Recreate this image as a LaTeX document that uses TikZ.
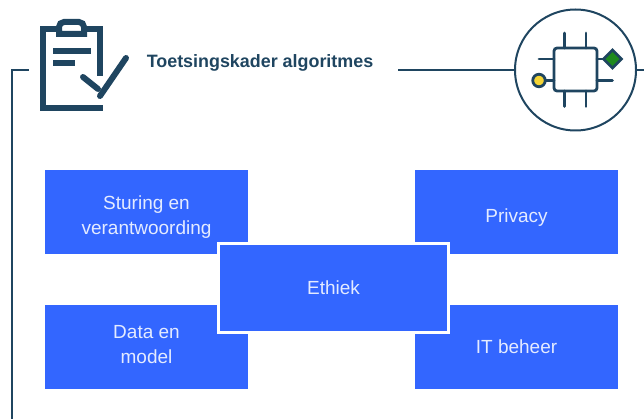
\documentclass[tikz,border=0pt]{standalone}
\usepackage{fontspec}
\setmainfont{Liberation Sans}
\usetikzlibrary{shapes.geometric}
\definecolor{navy}{HTML}{1F4560}
\definecolor{tileblue}{HTML}{3366FF}
\definecolor{tiletext}{HTML}{E4EBFF}
\definecolor{pingreen}{HTML}{1E8A1E}
\definecolor{pinyellow}{HTML}{F5D535}
\tikzset{
	tile/.style={fill=tileblue,minimum width=203pt,minimum height=84pt,inner sep=0pt,outer sep=0pt},
	tiletitle/.style={text=tiletext,inner sep=0pt,align=center,font=\fontsize{19}{25}\selectfont},
	wire/.style={draw=navy,line width=2pt},
	icon/.style={draw=navy,line width=6pt},
	pin/.style={draw=navy,line width=2.8pt,line cap=round},
}
\begin{document}
\begin{tikzpicture}[x=1pt,y=-1pt]
	\useasboundingbox (0,0) rectangle (644,419);

	%tiles
	\node[tile,label={[tiletitle,yshift=-5pt]center:Sturing en\\verantwoording}] (sturing) at (146.5,212) {};
	\node[tile,label={[tiletitle,yshift=-6pt]center:Privacy}] (privacy) at (516.5,212) {};
	\node[tile,label={[tiletitle,yshift=2pt]center:Data en\\model}] (data) at (146.5,347) {};
	\node[tile,label={[tiletitle]center:IT beheer}] (beheer) at (516.5,347) {};
	\node[tile,draw=white,line width=3.5pt,minimum width=230pt,minimum height=89pt,label={[tiletitle]center:Ethiek}] (ethiek) at (333.5,288) {};

	%title
	\node[text=navy,font=\bfseries\fontsize{17.9}{20}\selectfont,inner sep=0pt] (title) at (260,63) {Toetsingskader algoritmes};

	%ring around the chip
	\node[circle,draw=navy,line width=2pt,minimum size=121pt,inner sep=0pt,outer sep=0pt] (ring) at (575.5,70) {};

	%frame lines
	\coordinate (framebottom) at (12,419);
	\coordinate (frametop) at (12,70);
	\coordinate (frameend) at (29,70);
	\coordinate (linestart) at (398,70);
	\coordinate (lineend) at (644,70);
	\draw[wire] (framebottom) -- (frametop) -- (frameend);
	\draw[wire] (linestart) -- (ring.west);
	\draw[wire] (ring.east) -- (lineend);

	%clipboard
	\draw[icon,line join=miter] (100,76) -- (100,29) -- (43,29) -- (43,108) -- (103,108);
	\draw[icon,fill=white] (59,34) [rounded corners=5pt] -- (59,22) -- (84,22) [sharp corners] -- (84,34) -- cycle;
	\draw[icon] (53,51) -- (91,51);
	\draw[icon] (53,63.5) -- (75,63.5);
	\draw[icon,line cap=round] (83,77) -- (98,89);
	\draw[icon,line cap=round] (100,96) -- (126,58);

	%chip
	\node[draw=navy,line width=2.8pt,fill=white,rounded corners=3pt,minimum size=43pt,inner sep=0pt,outer sep=0pt] (chip) at (575.5,69.5) {};
	\node[circle,draw=navy,line width=2.8pt,fill=pinyellow,minimum size=12.5pt,inner sep=0pt,outer sep=0pt] (dot) at (539,80.5) {};
	\node[diamond,draw=navy,line width=2.8pt,fill=pingreen,minimum size=18pt,inner sep=0pt,outer sep=0pt] (gem) at (612.5,59) {};
	\foreach \x in {564.5,586}{
		\draw[pin] (\x,33) -- (\x,48);
		\draw[pin] (\x,91) -- (\x,106.5);
	}
	\draw[pin] (539,59) -- (554,59);
	\draw[pin] (597,80.5) -- (612.5,80.5);
	\draw[pin] (dot) -- (554,80.5);
	\draw[pin] (gem) -- (597,59);
\end{tikzpicture}
\end{document}
